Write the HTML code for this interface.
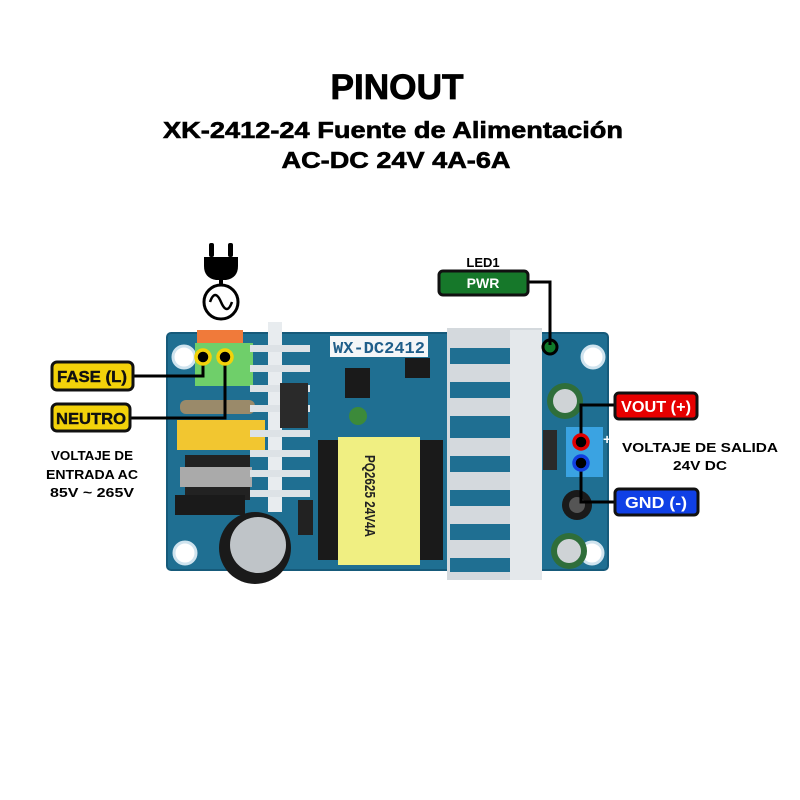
<!DOCTYPE html>
<html><head><meta charset="utf-8"><style>
html,body{margin:0;padding:0;background:#fff}
svg{display:block}
text{font-family:"Liberation Sans",sans-serif;font-weight:bold}
</style></head><body>
<svg width="800" height="800" viewBox="0 0 800 800" xmlns="http://www.w3.org/2000/svg">
<rect width="800" height="800" fill="#fff"/>
<text x="397" y="99" font-size="35" text-anchor="middle" textLength="133" lengthAdjust="spacingAndGlyphs" stroke="#000" stroke-width="0.8">PINOUT</text>
<text x="393" y="138" font-size="23" text-anchor="middle" textLength="460" lengthAdjust="spacingAndGlyphs" stroke="#000" stroke-width="0.6">XK-2412-24 Fuente de Alimentación</text>
<text x="396" y="168" font-size="23" text-anchor="middle" textLength="229" lengthAdjust="spacingAndGlyphs" stroke="#000" stroke-width="0.6">AC-DC 24V 4A-6A</text>

<!-- plug icon -->
<rect x="209" y="243" width="5" height="14" rx="2"/>
<rect x="228" y="243" width="5" height="14" rx="2"/>
<path d="M204 257 H238 V266 Q238 278 226 280 H216 Q204 278 204 266 Z"/>
<rect x="219" y="279" width="4" height="8"/>
<circle cx="221" cy="302" r="17" fill="#fff" stroke="#000" stroke-width="3"/>
<path d="M210 302 Q215 288 221 302 T232 302" fill="none" stroke="#000" stroke-width="2.5"/>

<!-- board -->
<rect x="167" y="333" width="441" height="237" rx="4" fill="#1f6f92"/>
<rect x="167" y="333" width="441" height="237" rx="4" fill="none" stroke="#165a7a" stroke-width="2"/>
<g fill="#fff" stroke="#cfe3ee" stroke-width="3">
<circle cx="184" cy="357" r="11"/><circle cx="593" cy="357" r="11"/>
<circle cx="185" cy="553" r="11"/><circle cx="592" cy="553" r="11"/>
</g>
<rect x="197" y="330" width="46" height="14" fill="#f07a3a"/>
<rect x="195" y="343" width="58" height="43" fill="#6fcf6a"/>
<rect x="180" y="400" width="75" height="14" rx="6" fill="#9a8a6a"/>
<rect x="177" y="420" width="88" height="30" fill="#f2c630"/>
<rect x="185" y="455" width="65" height="45" fill="#222"/>
<rect x="180" y="467" width="72" height="20" fill="#aaa"/>
<rect x="175" y="495" width="70" height="20" fill="#1a1a1a"/>
<rect x="268" y="322" width="14" height="190" fill="#e8ecef"/>
<g fill="#dde2e6">
<rect x="250" y="345" width="60" height="7"/><rect x="250" y="365" width="60" height="7"/>
<rect x="250" y="385" width="60" height="7"/><rect x="250" y="405" width="60" height="7"/>
<rect x="250" y="430" width="60" height="7"/><rect x="250" y="450" width="60" height="7"/>
<rect x="250" y="470" width="60" height="7"/><rect x="250" y="490" width="60" height="7"/>
</g>
<rect x="280" y="383" width="28" height="45" fill="#2a2a2a"/>
<circle cx="255" cy="548" r="36" fill="#1a1a1a"/>
<circle cx="258" cy="545" r="28" fill="#bfc4c8"/>
<rect x="330" y="336" width="98" height="21" fill="#f4f6f8"/>
<text x="379" y="353" font-size="17" font-weight="normal" text-anchor="middle" fill="#1f5e8a" style="font-family:'Liberation Mono',monospace" textLength="92" lengthAdjust="spacingAndGlyphs">WX-DC2412</text>
<rect x="345" y="368" width="25" height="30" fill="#1a1a1a"/>
<rect x="405" y="358" width="25" height="20" fill="#1a1a1a"/>
<circle cx="358" cy="416" r="9" fill="#3c8a3a"/>
<rect x="318" y="440" width="125" height="120" fill="#1a1a1a"/>
<rect x="338" y="437" width="82" height="128" fill="#f0ef82"/>
<text transform="translate(365,455) rotate(90)" font-size="15" font-weight="normal" fill="#222" textLength="82" lengthAdjust="spacingAndGlyphs">PQ2625 24V4A</text>
<rect x="298" y="500" width="15" height="35" fill="#222"/>
<!-- right heatsink -->
<rect x="447" y="328" width="95" height="252" fill="#d4d9dd"/>
<g fill="#1f6f92">
<rect x="450" y="348" width="60" height="16"/><rect x="450" y="382" width="60" height="16"/>
<rect x="450" y="416" width="60" height="22"/><rect x="450" y="456" width="60" height="16"/>
<rect x="450" y="490" width="60" height="16"/><rect x="450" y="524" width="60" height="16"/>
<rect x="450" y="558" width="60" height="14"/>
</g>
<rect x="510" y="330" width="32" height="250" fill="#e4e8eb"/>
<circle cx="565" cy="401" r="18" fill="#2f6e3a"/><circle cx="565" cy="401" r="12" fill="#cfd3d6"/>
<circle cx="569" cy="551" r="18" fill="#2f6e3a"/><circle cx="569" cy="551" r="12" fill="#cfd3d6"/>
<circle cx="577" cy="505" r="15" fill="#1a1a1a"/><circle cx="577" cy="505" r="8" fill="#555"/>
<rect x="543" y="430" width="14" height="40" fill="#2a2a2a"/>
<rect x="566" y="427" width="37" height="50" fill="#3aa3e2"/>
<text x="603" y="444" font-size="14" fill="#fff">+</text>
<circle cx="550" cy="347" r="7" fill="#0f7a2a" stroke="#000" stroke-width="3"/>

<g fill="none" stroke="#000" stroke-width="3">
<path d="M133 376 H203 V357"/>
<path d="M130 418 H225 V357"/>
<path d="M528 282 H550 V345"/>
<path d="M615 405 H581 V442"/>
<path d="M615 502 H581 V463"/>
</g>
<circle cx="203" cy="357" r="7" fill="#000" stroke="#f3d20a" stroke-width="3.5"/>
<circle cx="225" cy="357" r="7" fill="#000" stroke="#f3d20a" stroke-width="3.5"/>
<circle cx="581" cy="442" r="7" fill="#000" stroke="#e00000" stroke-width="3.5"/>
<circle cx="581" cy="463" r="7" fill="#000" stroke="#1040e0" stroke-width="3.5"/>

<rect x="52" y="362" width="81" height="28" rx="5" fill="#f3d20a" stroke="#111" stroke-width="3"/>
<text x="92" y="382" font-size="16" text-anchor="middle" fill="#111" textLength="70" lengthAdjust="spacingAndGlyphs" stroke="#111" stroke-width="0.4">FASE (L)</text>
<rect x="52" y="404" width="78" height="27" rx="5" fill="#f3d20a" stroke="#111" stroke-width="3"/>
<text x="91" y="424" font-size="16" text-anchor="middle" fill="#111" textLength="70" lengthAdjust="spacingAndGlyphs" stroke="#111" stroke-width="0.4">NEUTRO</text>
<text x="92" y="460" font-size="13" text-anchor="middle" textLength="82" lengthAdjust="spacingAndGlyphs">VOLTAJE DE</text>
<text x="92" y="479" font-size="13" text-anchor="middle" textLength="92" lengthAdjust="spacingAndGlyphs">ENTRADA AC</text>
<text x="92" y="497" font-size="13" text-anchor="middle" textLength="84" lengthAdjust="spacingAndGlyphs">85V ~  265V</text>

<text x="483" y="267" font-size="13" text-anchor="middle">LED1</text>
<rect x="439" y="271" width="89" height="24" rx="4" fill="#16782a" stroke="#111" stroke-width="3"/>
<text x="483" y="288" font-size="14" text-anchor="middle" fill="#fff">PWR</text>

<rect x="615" y="393" width="82" height="26" rx="4" fill="#e60000" stroke="#111" stroke-width="3"/>
<text x="656" y="412" font-size="16" text-anchor="middle" fill="#fff" textLength="70" lengthAdjust="spacingAndGlyphs">VOUT (+)</text>
<rect x="615" y="489" width="83" height="26" rx="4" fill="#1040e6" stroke="#111" stroke-width="3"/>
<text x="656" y="508" font-size="16" text-anchor="middle" fill="#fff" textLength="62" lengthAdjust="spacingAndGlyphs">GND (-)</text>
<text x="700" y="452" font-size="13" text-anchor="middle" textLength="156" lengthAdjust="spacingAndGlyphs">VOLTAJE DE SALIDA</text>
<text x="700" y="470" font-size="13" text-anchor="middle" textLength="54" lengthAdjust="spacingAndGlyphs">24V DC</text>
</svg>
</body></html>
